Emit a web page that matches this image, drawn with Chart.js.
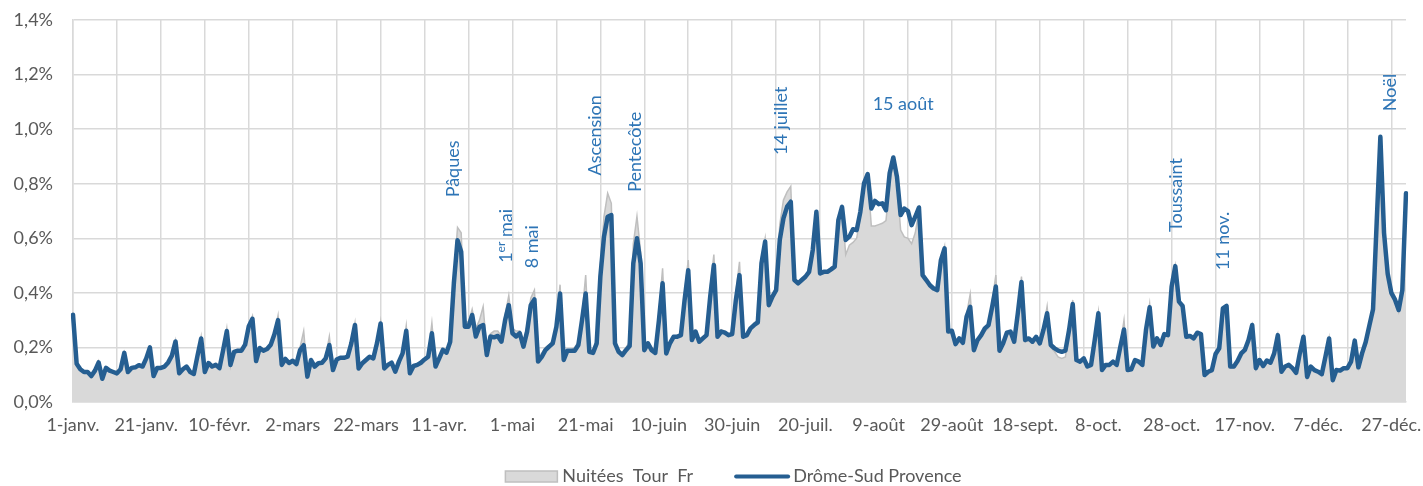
<!DOCTYPE html>
<html lang="fr">
<head>
<meta charset="utf-8">
<title>Nuitées Tour Fr / Drôme-Sud Provence</title>
<script src="https://cdn.jsdelivr.net/npm/chart.js@4.4.1/dist/chart.umd.min.js"></script>
<style>
  html, body { margin: 0; padding: 0; background: #ffffff; }
  #wrap { position: relative; width: 1423px; height: 486px; }
</style>
</head>
<body>
<div id="wrap"><canvas id="nuiteesChart"></canvas></div>
<script>
// categories: one label per day of the year
const monthNames = ["janv.", "févr.", "mars", "avr.", "mai", "juin", "juil.", "août", "sept.", "oct.", "nov.", "déc."];
const monthLengths = [31, 28, 31, 30, 31, 30, 31, 31, 30, 31, 30, 31];
const labelEvery = 20;
const gridEvery = 12;

const seriesNames = ["Nuitées  Tour  Fr", "Drôme-Sud Provence"];

// share of yearly nights, in %, one row per week
const nuiteesTourFr = [
  0.32, 0.14, 0.12, 0.11, 0.11, 0.095, 0.115,
  0.15, 0.09, 0.12, 0.115, 0.11, 0.105, 0.12,
  0.18, 0.11, 0.12, 0.125, 0.13, 0.13, 0.16,
  0.2, 0.1, 0.12, 0.12, 0.13, 0.145, 0.17,
  0.225, 0.1, 0.12, 0.13, 0.11, 0.1, 0.17,
  0.24, 0.11, 0.14, 0.13, 0.135, 0.125, 0.19,
  0.27, 0.13, 0.18, 0.185, 0.19, 0.21, 0.28,
  0.315, 0.15, 0.195, 0.19, 0.195, 0.21, 0.255,
  0.318, 0.135, 0.155, 0.145, 0.15, 0.14, 0.2,
  0.26, 0.1, 0.15, 0.13, 0.14, 0.145, 0.165,
  0.24, 0.12, 0.15, 0.16, 0.165, 0.17, 0.22,
  0.29, 0.125, 0.14, 0.155, 0.165, 0.165, 0.22,
  0.295, 0.125, 0.135, 0.145, 0.12, 0.15, 0.185,
  0.28, 0.11, 0.13, 0.135, 0.145, 0.16, 0.175,
  0.29, 0.135, 0.16, 0.19, 0.185, 0.23, 0.46,
  0.64, 0.62, 0.3, 0.29, 0.34, 0.27, 0.3,
  0.35, 0.19, 0.25, 0.26, 0.26, 0.24, 0.32,
  0.39, 0.27, 0.26, 0.26, 0.22, 0.28, 0.38,
  0.41, 0.16, 0.18, 0.2, 0.21, 0.225, 0.29,
  0.43, 0.17, 0.19, 0.19, 0.2, 0.22, 0.32,
  0.465, 0.19, 0.19, 0.23, 0.5, 0.68, 0.765,
  0.728, 0.22, 0.19, 0.18, 0.2, 0.22, 0.58,
  0.68, 0.55, 0.2, 0.22, 0.2, 0.19, 0.33,
  0.49, 0.19, 0.22, 0.24, 0.245, 0.25, 0.4,
  0.52, 0.24, 0.26, 0.23, 0.24, 0.25, 0.42,
  0.54, 0.25, 0.265, 0.26, 0.25, 0.255, 0.4,
  0.514, 0.245, 0.25, 0.275, 0.29, 0.3, 0.53,
  0.6, 0.36, 0.39, 0.42, 0.65, 0.74, 0.77,
  0.79, 0.445, 0.435, 0.445, 0.455, 0.475, 0.56,
  0.69, 0.47, 0.475, 0.475, 0.48, 0.49, 0.66,
  0.71, 0.54, 0.575, 0.585, 0.6, 0.68, 0.79,
  0.83, 0.645, 0.645, 0.65, 0.655, 0.665, 0.8,
  0.88, 0.8, 0.63, 0.605, 0.6, 0.58, 0.62,
  0.7, 0.46, 0.44, 0.425, 0.415, 0.41, 0.52,
  0.57, 0.26, 0.26, 0.215, 0.235, 0.22, 0.32,
  0.395, 0.2, 0.225, 0.24, 0.26, 0.27, 0.37,
  0.465, 0.19, 0.21, 0.25, 0.255, 0.22, 0.33,
  0.46, 0.22, 0.225, 0.215, 0.23, 0.21, 0.27,
  0.35, 0.2, 0.185, 0.165, 0.16, 0.165, 0.27,
  0.374, 0.15, 0.145, 0.155, 0.13, 0.135, 0.24,
  0.33, 0.115, 0.13, 0.135, 0.145, 0.135, 0.21,
  0.3, 0.115, 0.12, 0.15, 0.145, 0.135, 0.27,
  0.36, 0.2, 0.225, 0.205, 0.245, 0.24, 0.43,
  0.5, 0.375, 0.35, 0.235, 0.24, 0.23, 0.25,
  0.245, 0.1, 0.11, 0.115, 0.17, 0.19, 0.34,
  0.35, 0.125, 0.125, 0.145, 0.17, 0.185, 0.225,
  0.28, 0.12, 0.15, 0.13, 0.15, 0.14, 0.175,
  0.245, 0.11, 0.125, 0.13, 0.12, 0.105, 0.175,
  0.24, 0.09, 0.125, 0.115, 0.11, 0.1, 0.165,
  0.235, 0.08, 0.115, 0.11, 0.12, 0.12, 0.145,
  0.22, 0.125, 0.17, 0.21, 0.27, 0.33, 0.62,
  0.93, 0.6, 0.46, 0.39, 0.37, 0.33, 0.4,
  0.74
];

const dromeSudProvence = [
  0.32, 0.14, 0.12, 0.11, 0.11, 0.095, 0.115,
  0.145, 0.085, 0.125, 0.115, 0.11, 0.105, 0.12,
  0.18, 0.11, 0.125, 0.127, 0.135, 0.13, 0.16,
  0.2, 0.095, 0.125, 0.125, 0.13, 0.145, 0.17,
  0.222, 0.105, 0.12, 0.13, 0.11, 0.103, 0.17,
  0.233, 0.11, 0.143, 0.13, 0.136, 0.124, 0.19,
  0.26, 0.136, 0.184, 0.188, 0.188, 0.21, 0.278,
  0.305, 0.15, 0.198, 0.188, 0.194, 0.21, 0.248,
  0.3, 0.136, 0.158, 0.143, 0.151, 0.139, 0.19,
  0.208, 0.093, 0.154, 0.13, 0.142, 0.144, 0.16,
  0.209, 0.117, 0.156, 0.162, 0.162, 0.166, 0.215,
  0.282, 0.123, 0.142, 0.154, 0.166, 0.16, 0.215,
  0.288, 0.123, 0.136, 0.144, 0.111, 0.148, 0.178,
  0.261, 0.105, 0.132, 0.136, 0.144, 0.156, 0.166,
  0.252, 0.13, 0.16, 0.191, 0.181, 0.221, 0.435,
  0.593, 0.551, 0.276, 0.276, 0.319, 0.24, 0.276,
  0.282, 0.172, 0.24, 0.237, 0.242, 0.221, 0.3,
  0.355, 0.252, 0.24, 0.252, 0.203, 0.258, 0.355,
  0.376, 0.148, 0.165, 0.19, 0.203, 0.215, 0.276,
  0.398, 0.154, 0.188, 0.188, 0.188, 0.209, 0.3,
  0.398, 0.184, 0.18, 0.215, 0.459, 0.606, 0.679,
  0.685, 0.215, 0.184, 0.172, 0.19, 0.205, 0.508,
  0.6, 0.508, 0.19, 0.215, 0.19, 0.18, 0.3,
  0.435, 0.178, 0.215, 0.239, 0.239, 0.245, 0.373,
  0.483, 0.227, 0.258, 0.221, 0.233, 0.245, 0.386,
  0.502, 0.239, 0.258, 0.254, 0.245, 0.249, 0.373,
  0.465, 0.239, 0.245, 0.27, 0.282, 0.292, 0.508,
  0.588, 0.355, 0.386, 0.41, 0.594, 0.673, 0.716,
  0.734, 0.447, 0.435, 0.447, 0.459, 0.477, 0.557,
  0.697, 0.471, 0.477, 0.477, 0.486, 0.496, 0.667,
  0.715, 0.594, 0.606, 0.633, 0.63, 0.697, 0.801,
  0.835, 0.709, 0.737, 0.725, 0.728, 0.703, 0.838,
  0.896, 0.825, 0.685, 0.709, 0.7, 0.648, 0.679,
  0.713, 0.465, 0.447, 0.428, 0.416, 0.41, 0.52,
  0.563, 0.258, 0.261, 0.212, 0.233, 0.217, 0.312,
  0.349, 0.19, 0.227, 0.245, 0.27, 0.282, 0.349,
  0.423, 0.188, 0.215, 0.254, 0.258, 0.221, 0.325,
  0.44, 0.227, 0.233, 0.221, 0.239, 0.215, 0.264,
  0.325, 0.209, 0.197, 0.188, 0.184, 0.188, 0.264,
  0.359, 0.154, 0.148, 0.16, 0.13, 0.136, 0.227,
  0.325, 0.117, 0.136, 0.136, 0.148, 0.136, 0.203,
  0.266, 0.117, 0.12, 0.154, 0.148, 0.136, 0.264,
  0.347, 0.203, 0.233, 0.209, 0.249, 0.245, 0.423,
  0.498, 0.368, 0.352, 0.239, 0.242, 0.233, 0.254,
  0.249, 0.099, 0.111, 0.117, 0.176, 0.197, 0.343,
  0.352, 0.13, 0.13, 0.15, 0.178, 0.191, 0.227,
  0.282, 0.124, 0.154, 0.132, 0.152, 0.144, 0.178,
  0.245, 0.111, 0.13, 0.136, 0.124, 0.107, 0.178,
  0.239, 0.092, 0.13, 0.117, 0.111, 0.102, 0.166,
  0.233, 0.08, 0.117, 0.115, 0.124, 0.124, 0.148,
  0.225, 0.127, 0.178, 0.22, 0.28, 0.34, 0.66,
  0.972, 0.62, 0.47, 0.4, 0.375, 0.337, 0.41,
  0.765
];

// holiday notes: day of year and the level (in %) where the text starts
const holidayNames = ["Pâques", "1er mai", "8 mai", "Ascension", "Pentecôte", "14 juillet", "15 août", "Toussaint", "11 nov.", "Noël"];
const holidayDays = [103.8, 118.2, 125.3, 142.5, 153.5, 193.3, 226.7, 301.2, 314, 359.6];
const holidayLevels = [0.75, 0.51, 0.49, 0.83, 0.77, 0.905, 1.09, 0.623, 0.483, 1.066];
const holidayUpright = [false, false, false, false, false, false, true, false, false, false];

const fontFamily = "Lato, 'Open Sans', sans-serif";
const textGrey = "#595959";
const noteBlue = "#2E75B6";
const lineBlue = "#255E91";
const areaGrey = "#D9D9D9";
const areaEdge = "#BFBFBF";
const gridGrey = "#D9D9D9";

function buildDayLabels() {
  const labels = [];
  monthNames.forEach(function (month, m) {
    for (let d = 1; d <= monthLengths[m]; d++) {
      labels.push(d + "-" + month);
    }
  });
  return labels;
}

const dayLabels = buildDayLabels();

const holidayNotes = {
  id: "holidayNotes",
  afterDatasetsDraw: function (chart) {
    const ctx = chart.ctx;
    const xScale = chart.scales.x;
    const yScale = chart.scales.y;
    ctx.save();
    ctx.fillStyle = noteBlue;
    holidayNames.forEach(function (name, i) {
      const x = xScale.getPixelForValue(holidayDays[i]);
      const y = yScale.getPixelForValue(holidayLevels[i]);
      ctx.save();
      ctx.translate(x, y);
      if (holidayUpright[i]) {
        ctx.font = "18px " + fontFamily;
        ctx.textAlign = "center";
        ctx.textBaseline = "middle";
        ctx.fillText(name, 0, 0);
        ctx.restore();
        return;
      }
      ctx.rotate(-Math.PI / 2);
      ctx.textAlign = "left";
      ctx.textBaseline = "middle";
      const sup = name.match(/^(\d+)(er)(.*)$/);
      if (sup) {
        ctx.font = "18px " + fontFamily;
        ctx.fillText(sup[1], 0, 0);
        let pos = ctx.measureText(sup[1]).width;
        ctx.font = "12px " + fontFamily;
        ctx.fillText(sup[2], pos, -5);
        pos += ctx.measureText(sup[2]).width;
        ctx.font = "18px " + fontFamily;
        ctx.fillText(sup[3], pos, 0);
      } else {
        ctx.font = "18px " + fontFamily;
        ctx.fillText(name, 0, 0);
      }
      ctx.restore();
    });
    ctx.restore();
  }
};

const bottomLegend = {
  id: "bottomLegend",
  afterDraw: function (chart) {
    const ctx = chart.ctx;
    const area = chart.chartArea;
    const swatch = 52;
    const gap = 5;
    const spacing = 43;
    ctx.save();
    ctx.font = "18px " + fontFamily;
    ctx.textBaseline = "middle";
    ctx.textAlign = "left";
    const w0 = ctx.measureText(seriesNames[0]).width;
    const w1 = ctx.measureText(seriesNames[1]).width;
    const total = swatch + gap + w0 + spacing + swatch + gap + w1;
    let x = (area.left + area.right) / 2 - 6 - total / 2;
    const y = chart.height - 9.5;

    ctx.fillStyle = areaGrey;
    ctx.strokeStyle = areaEdge;
    ctx.lineWidth = 1.5;
    ctx.fillRect(x, y - 5.5, swatch, 11);
    ctx.strokeRect(x, y - 5.5, swatch, 11);
    x += swatch + gap;
    ctx.fillStyle = textGrey;
    ctx.fillText(seriesNames[0], x, y);
    x += w0 + spacing;

    ctx.strokeStyle = lineBlue;
    ctx.lineWidth = 4;
    ctx.lineCap = "round";
    ctx.beginPath();
    ctx.moveTo(x, y);
    ctx.lineTo(x + swatch, y);
    ctx.stroke();
    x += swatch + gap;
    ctx.fillStyle = textGrey;
    ctx.fillText(seriesNames[1], x, y);
    ctx.restore();
  }
};

Chart.defaults.font.family = fontFamily;
Chart.defaults.font.size = 18;
Chart.defaults.color = textGrey;

new Chart(document.getElementById("nuiteesChart"), {
  type: "line",
  data: {
    labels: dayLabels,
    datasets: [
      {
        label: seriesNames[1],
        data: dromeSudProvence,
        order: 0,
        borderColor: lineBlue,
        borderWidth: 4.5,
        borderJoinStyle: "round",
        borderCapStyle: "round",
        pointRadius: 0,
        fill: false,
        tension: 0
      },
      {
        label: seriesNames[0],
        data: nuiteesTourFr,
        order: 1,
        borderColor: areaEdge,
        backgroundColor: areaGrey,
        borderWidth: 1.5,
        pointRadius: 0,
        fill: "origin",
        tension: 0
      }
    ]
  },
  options: {
    responsive: true,
    maintainAspectRatio: false,
    animation: false,
    layout: {
      padding: { top: 20, right: 17, bottom: 44, left: 0 }
    },
    plugins: {
      legend: { display: false },
      tooltip: { enabled: false }
    },
    scales: {
      x: {
        type: "category",
        offset: false,
        afterFit: function (scale) { scale.height = 40; },
        border: { color: gridGrey, width: 1.5 },
        grid: {
          drawTicks: false,
          lineWidth: 1.5,
          color: function (context) {
            return context.index % gridEvery === 0 ? gridGrey : "rgba(0,0,0,0)";
          }
        },
        ticks: {
          autoSkip: false,
          maxRotation: 0,
          minRotation: 0,
          padding: 12,
          color: textGrey,
          callback: function (value, index) {
            return index % labelEvery === 0 ? this.getLabelForValue(value) : "";
          }
        }
      },
      y: {
        min: 0,
        max: 1.4,
        afterFit: function (scale) {
          // fixed axis width; the label padding should not push the plot down
          scale.width = 73;
          scale.paddingTop = 0;
          scale.paddingBottom = 0;
        },
        border: { color: gridGrey, width: 1.5 },
        grid: { drawTicks: false, color: gridGrey, lineWidth: 1.5 },
        ticks: {
          stepSize: 0.2,
          padding: 20,
          color: textGrey,
          callback: function (value) {
            return value.toFixed(1).replace(".", ",") + "%";
          }
        }
      }
    }
  },
  plugins: [holidayNotes, bottomLegend]
});
</script>
</body>
</html>
